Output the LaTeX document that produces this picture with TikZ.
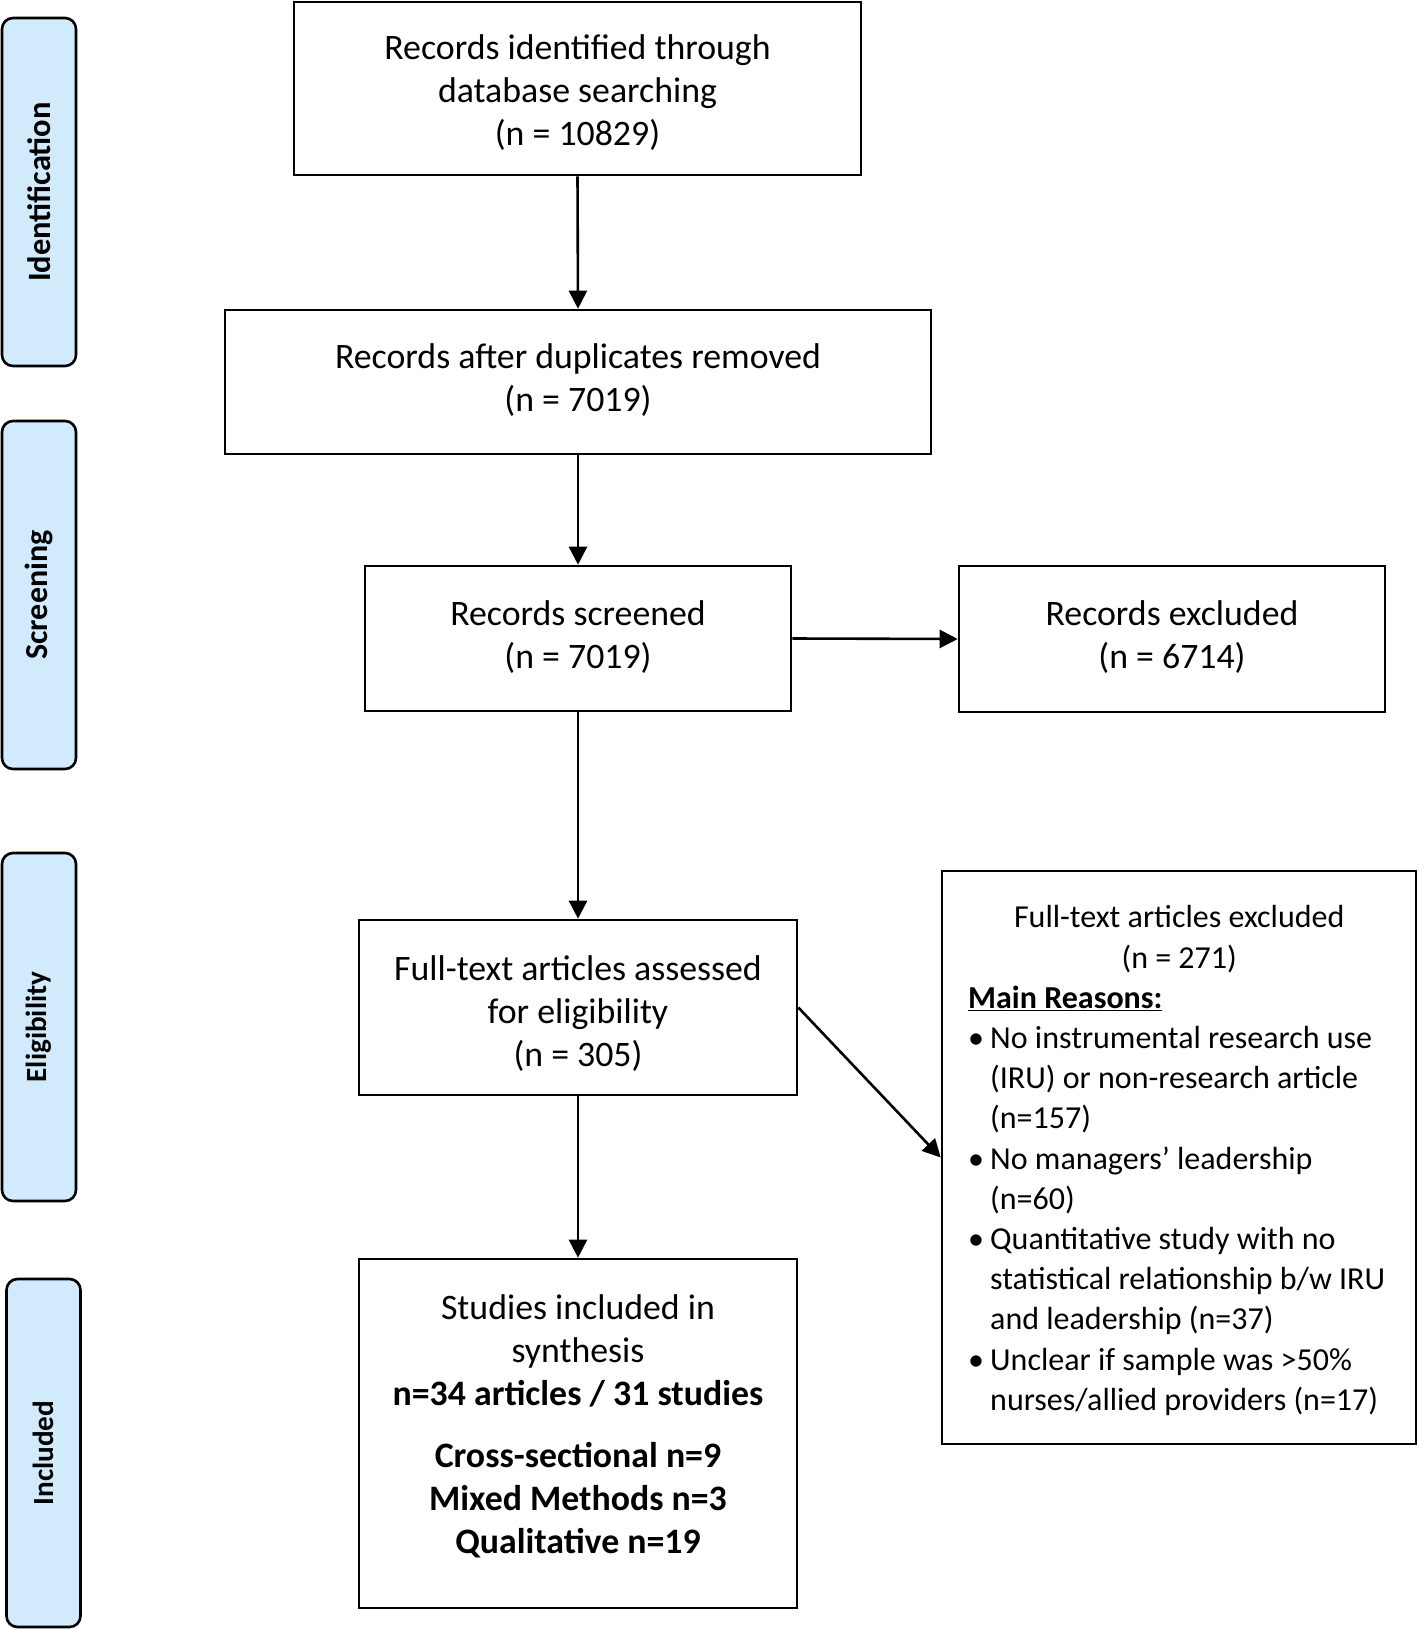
\documentclass[tikz,border=0pt]{standalone}
\usepackage{fontspec}
\setmainfont{Carlito}
\usetikzlibrary{arrows.meta}
\definecolor{sideblue}{RGB}{210,235,252}
\tikzset{
  box/.style={draw, line width=2.6pt, inner sep=0pt},
  boxtext/.style={align=center, inner sep=0pt, font=\fontsize{35.8}{43}\selectfont},
  side/.style={draw, line width=2.6pt, fill=sideblue, rounded corners=11pt,
    minimum width=74pt, minimum height=348pt, inner sep=0pt},
  sidetext/.style={rotate=90, inner sep=0pt},
  arr/.style={line width=2.6pt, -{Triangle[length=18pt,width=18pt]}}
}
\begin{document}
\begin{tikzpicture}[x=1pt,y=-1pt]
\useasboundingbox (0,0) rectangle (1418,1629);
% side labels
\node[side] (sid) at (39,192) {};
\node[sidetext, font=\fontsize{32.5}{38}\selectfont\bfseries] (tid) at (sid.center) {Identification};
\node[side] (ssc) at (39,595) {};
\node[sidetext, font=\fontsize{32}{38}\selectfont\bfseries] (tsc) at (ssc.center) {Screening};
\node[side] (sel) at (39,1027) {};
\node[sidetext, font=\fontsize{29.2}{35}\selectfont\bfseries] (tel) at (sel.center) {Eligibility};
\node[side] (sin) at (43.5,1453) {};
\node[sidetext, font=\fontsize{29.2}{35}\selectfont\bfseries] (tin) at (sin.center) {Included};
% main boxes
\node[box, minimum width=567pt, minimum height=173pt] (b1) at (577.5,88.5) {};
\node[boxtext] (b1t) at (577.5,92.7) {Records identified through\\database searching\\(n = 10829)};
\node[box, minimum width=706pt, minimum height=144pt] (b2) at (578,382) {};
\node[boxtext] (b2t) at (578,380.5) {Records after duplicates removed\\(n = 7019)};
\node[box, minimum width=426pt, minimum height=145pt] (b3) at (578,638.5) {};
\node[boxtext] (b3t) at (578,637) {Records screened\\(n = 7019)};
\node[box, minimum width=426pt, minimum height=146pt] (ex1) at (1172,639) {};
\node[boxtext] (ex1t) at (1172,637) {Records excluded\\(n = 6714)};
\node[box, minimum width=438pt, minimum height=175pt] (ft) at (578,1007.5) {};
\node[boxtext] (ftt) at (578,1013.5) {Full-text articles assessed\\for eligibility\\(n = 305)};
\node[box, minimum width=438pt, minimum height=349pt] (inc) at (578,1433.5) {};
\node[boxtext] (inct) at (578,1426.2)
  {Studies included in\\synthesis\\\textbf{n=34 articles / 31 studies}\\[19pt]
   \textbf{Cross-sectional n=9}\\\textbf{Mixed Methods n=3}\\\textbf{Qualitative n=19}};
\node[box, minimum width=474pt, minimum height=573pt] (ex2) at (1179,1157.5) {};
\node[align=left, inner sep=0pt, font=\fontsize{32}{40.2}\selectfont, anchor=north west]
  (ex2t) at (968,905.4) {%
   \makebox[422pt][c]{Full-text articles excluded}\\
   \makebox[422pt][c]{(n = 271)}\\
   \underline{\textbf{Main Reasons:}}\\
   \makebox[22pt][l]{\textbullet}No instrumental research use\\
   \hspace*{22pt}(IRU) or non-research article\\
   \hspace*{22pt}(n=157)\\
   \makebox[22pt][l]{\textbullet}No managers’ leadership\\
   \hspace*{22pt}(n=60)\\
   \makebox[22pt][l]{\textbullet}Quantitative study with no\\
   \hspace*{22pt}statistical relationship b/w IRU\\
   \hspace*{22pt}and leadership (n=37)\\
   \makebox[22pt][l]{\textbullet}Unclear if sample was >50\%\\
   \hspace*{22pt}nurses/allied providers (n=17)};
% arrows
\draw[arr] (b1.south) -- (b2.north);
\draw[arr] (b2.south) -- (b3.north);
\draw[arr] (b3.south) -- (ft.north);
\draw[arr] (ft.south) -- (inc.north);
\draw[arr] (b3.east) -- (ex1.west);
\draw[arr] (ft.east) -- (ex2.west);
\end{tikzpicture}
\end{document}
